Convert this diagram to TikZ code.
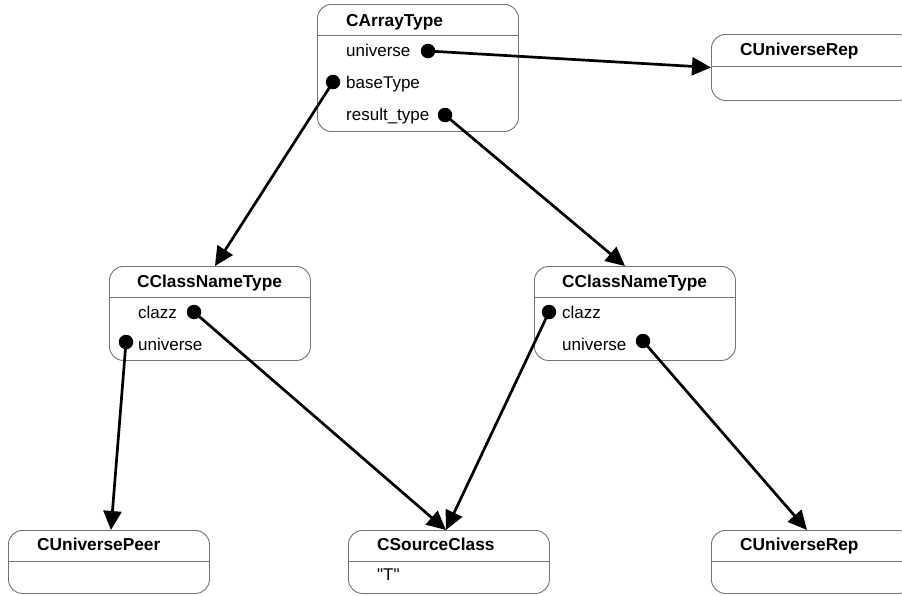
\documentclass[tikz,border=0pt]{standalone}
\usepackage{fontspec}
\setmainfont{Liberation Sans}
\usetikzlibrary{arrows.meta}
\definecolor{boxgray}{RGB}{115,115,115}
\begin{document}
\begin{tikzpicture}[x=1pt,y=-1pt,
  cls/.style={draw=boxgray, line width=0.9pt, rounded corners=14pt, minimum width=201pt, anchor=north west, inner sep=0pt},
  title/.style={anchor=base west, inner sep=0pt, font=\fontsize{17.3}{20}\selectfont\bfseries},
  attr/.style={anchor=base west, inner sep=0pt, font=\fontsize{17}{20}\selectfont},
  sep/.style={draw=boxgray, line width=0.9pt},
  dot/.style={circle, fill=black, inner sep=0pt, minimum size=14.5pt},
  link/.style={line width=2.7pt, -{Triangle[length=19pt,width=18pt]}}
]
\useasboundingbox (0,0) rectangle (902,595);
\clip (0,0) rectangle (902,595);

% class boxes
\node[cls, minimum height=127pt] (arr)  at (317,4)   {};
\node[cls, minimum height=66pt]  (rep1) at (711,34)  {};
\node[cls, minimum height=94pt]  (cn1)  at (109,266) {};
\node[cls, minimum height=94pt]  (cn2)  at (534,266) {};
\node[cls, minimum height=63pt]  (peer) at (8,530)   {};
\node[cls, minimum height=63pt]  (src)  at (348,530) {};
\node[cls, minimum height=63pt]  (rep2) at (711,530) {};

% header separators
\foreach \b/\h in {arr/31, rep1/32, cn1/31, cn2/31, peer/31, src/31, rep2/31}
  \draw[sep] ([yshift=-\h pt]\b.north west) -- ([yshift=-\h pt]\b.north east);

% titles
\node[title] (arrT)  at (346,26)  {CArrayType};
\node[title] (rep1T) at (740,55)  {CUniverseRep};
\node[title] (cn1T)  at (137,287) {CClassNameType};
\node[title] (cn2T)  at (562,287) {CClassNameType};
\node[title] (peerT) at (37,550)  {CUniversePeer};
\node[title] (srcT)  at (377,550) {CSourceClass};
\node[title] (rep2T) at (740,550) {CUniverseRep};

% attributes
\node[attr] (a1) at (346,56)  {universe};
\node[attr] (a2) at (346,88)  {baseType};
\node[attr] (a3) at (346,120) {result\_type};
\node[attr] (b1) at (138,318) {clazz};
\node[attr] (b2) at (138,350) {universe};
\node[attr] (c1) at (562,318) {clazz};
\node[attr] (c2) at (562,350) {universe};
\node[attr] (s1) at (377,580) {\textquotedbl T\textquotedbl};

% reference dots
\node[dot] (dA1) at (428,51)  {};
\node[dot] (dA2) at (333,82)  {};
\node[dot] (dA3) at (445,115) {};
\node[dot] (dB1) at (194,312) {};
\node[dot] (dB2) at (126,342) {};
\node[dot] (dC1) at (549,312) {};
\node[dot] (dC2) at (643,341) {};

% references
\draw[link] (dA1.center) -- (rep1.west);
\draw[link] (dA2.center) -- ([xshift=5pt]cn1.north);
\draw[link] (dA3.center) -- ([xshift=-10pt]cn2.north);
\draw[link] (dB1.center) -- ([xshift=-3pt]src.north);
\draw[link] (dB2.center) -- ([xshift=2pt]peer.north);
\draw[link] (dC1.center) -- ([xshift=-3pt]src.north);
\draw[link] (dC2.center) -- ([xshift=-5pt]rep2.north);
\end{tikzpicture}
\end{document}
